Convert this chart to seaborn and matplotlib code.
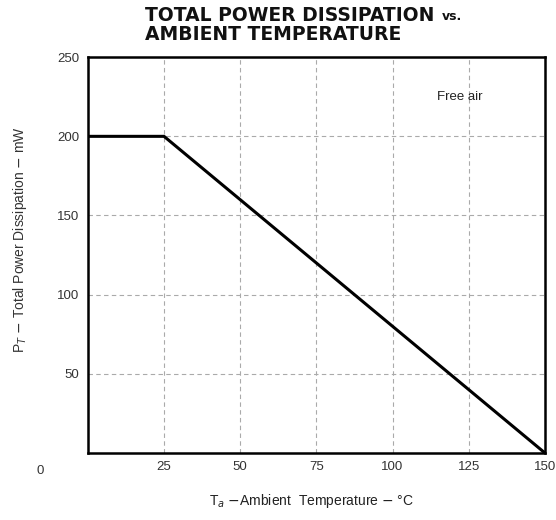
import matplotlib
matplotlib.use("Agg")
import matplotlib.pyplot as plt
import seaborn as sns
import pandas as pd

# Data
temperature = [0, 25, 150]
power = [200, 200, 0]
x_ticks = [25, 50, 75, 100, 125, 150]
y_ticks = [50, 100, 150, 200, 250]

sns.set_theme(style="white")
plt.rcParams['font.family'] = ['Liberation Sans', 'DejaVu Sans']

df = pd.DataFrame({"Temperature": temperature, "Power": power})

fig = plt.figure(figsize=(5.56, 5.2), dpi=100)
ax = fig.add_axes([0.158, 0.129, 0.822, 0.761])

sns.lineplot(data=df, x="Temperature", y="Power", ax=ax, color="black", linewidth=2.2)

ax.set_xlim(0, 150)
ax.set_ylim(0, 250)
ax.set_xticks(x_ticks)
ax.set_yticks(y_ticks)
ax.set_xticklabels([str(t) for t in x_ticks])
ax.set_yticklabels([str(t) for t in y_ticks])
ax.tick_params(axis='both', length=0, labelsize=9.5, colors='#333333', pad=6)
ax.grid(True, linestyle=(0, (4, 3)), color='#aaaaaa', linewidth=0.8)

for s in ax.spines.values():
    s.set_color('black')
    s.set_linewidth(1.8)

ax.text(-0.105, -0.045, "0", transform=ax.transAxes, ha='center', va='center',
        fontsize=9.5, color='#333333')
ax.text(122, 225, "Free air", ha='center', va='center', fontsize=9.5, color='#222222')

ax.set_xlabel(r"T$_a$ $-$Ambient  Temperature $-$ °C", fontsize=10, color='#222222')
ax.xaxis.set_label_coords(0.49, -0.10)
ax.set_ylabel(r"P$_T$ $-$ Total Power Dissipation $-$ mW", fontsize=10, color='#333333')
ax.yaxis.set_label_coords(-0.128, 0.54)

t1 = fig.text(0.261, 0.971, "TOTAL POWER DISSIPATION", fontsize=13.5, fontweight='bold',
              ha='left', va='center', color='#111111', family='DejaVu Sans')
fig.text(0.261, 0.933, "AMBIENT TEMPERATURE", fontsize=13.5, fontweight='bold',
         ha='left', va='center', color='#111111', family='DejaVu Sans')
fig.canvas.draw()
bb = t1.get_window_extent()
fig.text((bb.x1 + 7) / fig.bbox.width, 0.969, "vs.", fontsize=9, fontweight='bold',
         ha='left', va='center', color='#111111', family='DejaVu Sans')

fig.savefig("out.png", dpi=100)
